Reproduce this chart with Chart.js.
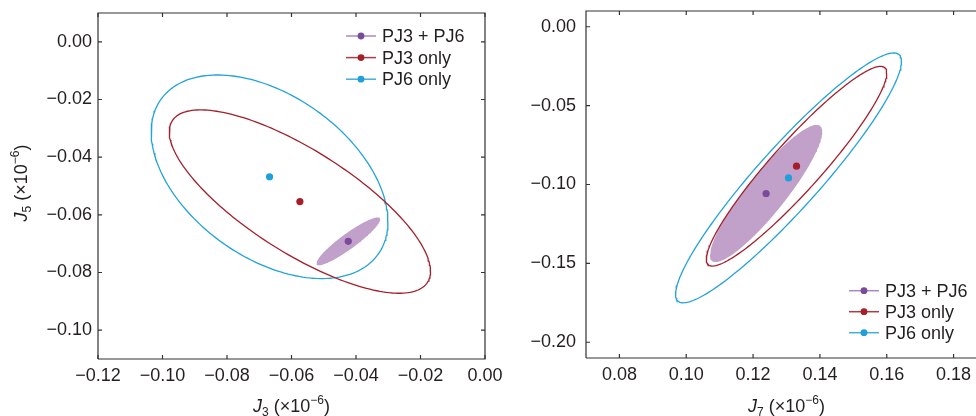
<!DOCTYPE html>
<html>
<head>
<meta charset="utf-8">
<script src="https://cdn.jsdelivr.net/npm/chart.js@4.4.1/dist/chart.umd.min.js"></script>
<style>
html, body { margin: 0; padding: 0; background: #fff; overflow: hidden; width: 976px; height: 416px; }
.panel { position: absolute; top: 0; height: 416px; }
#left_box { left: 0; width: 520px; }
#right_box { left: 500px; width: 500px; }
</style>
</head>
<body>
<div class="panel" id="left_box"><canvas id="leftChart"></canvas></div>
<div class="panel" id="right_box"><canvas id="rightChart"></canvas></div>
<script>
// series (same order in both panels)
const series_names = ['PJ3 + PJ6', 'PJ3 only', 'PJ6 only'];

// left panel: J3 vs J5 (x10^-6) - centre, half extents, correlation
const j3_centre = [-0.0424, -0.0574, -0.0668];
const j5_centre = [-0.0692, -0.0554, -0.0468];
const j3_halfwidth = [0.0099, 0.0405, 0.0367];
const j5_halfwidth = [0.0083, 0.0318, 0.0353];
const j3_j5_corr = [0.92, -0.76, -0.44];
const j3_ticks = [-0.12, -0.10, -0.08, -0.06, -0.04, -0.02, 0.00];
const j5_ticks = [0.00, -0.02, -0.04, -0.06, -0.08, -0.10];

// right panel: J7 vs J9 (x10^-6)
const j7_centre = [0.1239, 0.1330, 0.1306];
const j9_centre = [-0.1057, -0.0884, -0.0958];
const j7_halfwidth = [0.0168, 0.0270, 0.0338];
const j9_halfwidth = [0.0435, 0.0633, 0.0792];
const j7_j9_corr = [0.90, 0.932, 0.931];
const j7_ticks = [0.08, 0.10, 0.12, 0.14, 0.16, 0.18];
const j9_ticks = [0.00, -0.05, -0.10, -0.15, -0.20];

// colours
const line_colors = ['#a07cb8', '#a51f2a', '#23a2dc'];
const dot_colors = ['#7b4b9b', '#a51f2a', '#1f9fdb'];
const legend_line_colors = ['#a98ac0', '#b23a42', '#45acdf'];
const purple_fill = '#c1a0ca';
const text_color = '#231f20';
const frame_color = '#333333';
const font_family = '"Liberation Sans", Arial, Helvetica, sans-serif';

//橢圓外框 (中心, 半寬, 半高, 相關係數)
function ellipse_points(cx, cy, sx, sy, r) {
    let pts = [];
    let n = 200;
    for (let i = 0; i <= n; i++) {
        let t = i / n * 2 * Math.PI;
        pts.push({
            x: cx + sx * Math.cos(t),
            y: cy + sy * (r * Math.cos(t) + Math.sqrt(1 - r * r) * Math.sin(t))
        });
    }
    return pts;
}

function build_datasets(xc, yc, sx, sy, rho) {
    let ds = [];
    for (let i = 0; i < series_names.length; i++) {
        ds.push({
            label: series_names[i] + ' region',
            data: ellipse_points(xc[i], yc[i], sx[i], sy[i], rho[i]),
            showLine: true,
            pointRadius: 0,
            borderWidth: i == 0 ? 0 : 1.3,
            borderColor: i == 0 ? purple_fill : line_colors[i],
            backgroundColor: i == 0 ? purple_fill : 'rgba(0,0,0,0)',
            fill: i == 0 ? 'shape' : false,
            tension: 0,
            order: i == 0 ? 10 : 5
        });
    }
    for (let i = 0; i < series_names.length; i++) {
        ds.push({
            label: series_names[i],
            data: [{ x: xc[i], y: yc[i] }],
            pointRadius: 3.6,
            pointBorderWidth: 0,
            backgroundColor: dot_colors[i],
            borderColor: dot_colors[i],
            order: 0
        });
    }
    return ds;
}

function fmt_tick(v) {
    return (v < -1e-9 ? '\u2212' : '') + Math.abs(v).toFixed(2);
}

// J_n (×10^-6) 文字
function draw_math_label(ctx, sub, cx, cy, rot) {
    let parts = [
        { t: 'J', font: 'italic 18px ' + font_family, dy: 0 },
        { t: sub, font: '12px ' + font_family, dy: 4 },
        { t: ' (\u00d710', font: '18px ' + font_family, dy: 0 },
        { t: '\u22126', font: '12px ' + font_family, dy: -8 },
        { t: ')', font: '18px ' + font_family, dy: 0 }
    ];
    let w = 0;
    parts.forEach(p => { ctx.font = p.font; p.w = ctx.measureText(p.t).width; w += p.w; });
    ctx.save();
    ctx.translate(cx, cy);
    ctx.rotate(rot);
    ctx.fillStyle = text_color;
    ctx.textBaseline = 'alphabetic';
    ctx.textAlign = 'left';
    let x = -w / 2;
    parts.forEach(p => {
        ctx.font = p.font;
        ctx.fillText(p.t, x, p.dy);
        x += p.w;
    });
    ctx.restore();
}

// 外框, 內側刻度, 軸標題, 圖例
const panel_extras = {
    id: 'panel_extras',
    afterDraw(chart, args, opts) {
        const ctx = chart.ctx;
        const a = chart.chartArea;
        const xs = chart.scales.x, ys = chart.scales.y;
        ctx.save();
        ctx.strokeStyle = frame_color;
        ctx.lineWidth = 1.2;
        ctx.beginPath();
        ctx.moveTo(a.left, a.bottom);
        ctx.lineTo(a.left, a.top);
        ctx.lineTo(a.right, a.top);
        ctx.lineTo(a.right, a.bottom);
        ctx.lineTo(a.left, a.bottom);
        ctx.stroke();
        let tl = 4;
        ctx.beginPath();
        opts.xticks.forEach(v => {
            let px = xs.getPixelForValue(v);
            ctx.moveTo(px, a.bottom); ctx.lineTo(px, a.bottom - tl);
            ctx.moveTo(px, a.top); ctx.lineTo(px, a.top + tl);
        });
        opts.yticks.forEach(v => {
            let py = ys.getPixelForValue(v);
            ctx.moveTo(a.left, py); ctx.lineTo(a.left + tl, py);
            ctx.moveTo(a.right, py); ctx.lineTo(a.right - tl, py);
        });
        ctx.stroke();
        ctx.restore();

        draw_math_label(ctx, opts.xsub, (a.left + a.right) / 2, opts.xtitle_y, 0);
        draw_math_label(ctx, opts.ysub, opts.ytitle_x, opts.ytitle_y, -Math.PI / 2);

        // legend
        ctx.save();
        ctx.font = '18px ' + font_family;
        ctx.textBaseline = 'middle';
        ctx.textAlign = 'left';
        for (let i = 0; i < series_names.length; i++) {
            let y = opts.legend_y + i * opts.legend_step;
            ctx.strokeStyle = legend_line_colors[i];
            ctx.lineWidth = 1.5;
            ctx.beginPath();
            ctx.moveTo(opts.legend_x, y);
            ctx.lineTo(opts.legend_x + 30, y);
            ctx.stroke();
            ctx.fillStyle = dot_colors[i];
            ctx.beginPath();
            ctx.arc(opts.legend_x + 15, y, 3.4, 0, 2 * Math.PI);
            ctx.fill();
            ctx.fillStyle = text_color;
            ctx.fillText(series_names[i], opts.legend_x + 36, y + 1);
        }
        ctx.restore();
    }
};

function make_chart(canvas_id, datasets, xr, yr, xticks, yticks, box, extras) {
    const ctx = document.getElementById(canvas_id);
    return new Chart(ctx, {
        type: 'scatter',
        data: { datasets: datasets },
        plugins: [panel_extras],
        options: {
            responsive: true,
            maintainAspectRatio: false,
            animation: false,
            layout: { padding: { left: 0, top: box.top, right: box.right, bottom: 0 } },
            plugins: {
                legend: { display: false },
                tooltip: { enabled: false },
                panel_extras: Object.assign({ xticks: xticks, yticks: yticks }, extras)
            },
            scales: {
                x: {
                    type: 'linear',
                    min: xr[0],
                    max: xr[1],
                    afterBuildTicks: s => { s.ticks = xticks.map(v => ({ value: v })); },
                    afterFit: s => { s.height = box.xh; s.paddingLeft = 0; s.paddingRight = 0; },
                    grid: { display: false, drawTicks: false },
                    border: { display: false },
                    ticks: {
                        callback: fmt_tick,
                        autoSkip: false,
                        maxRotation: 0,
                        padding: box.xpad,
                        color: text_color,
                        font: { size: 18, family: font_family }
                    }
                },
                y: {
                    type: 'linear',
                    min: yr[0],
                    max: yr[1],
                    afterBuildTicks: s => { s.ticks = yticks.map(v => ({ value: v })); },
                    afterFit: s => { s.width = box.yw; s.paddingTop = 0; s.paddingBottom = 0; },
                    grid: { display: false, drawTicks: false },
                    border: { display: false },
                    ticks: {
                        callback: fmt_tick,
                        autoSkip: false,
                        padding: box.ypad,
                        color: text_color,
                        font: { size: 18, family: font_family }
                    }
                }
            }
        }
    });
}

make_chart('leftChart',
    build_datasets(j3_centre, j5_centre, j3_halfwidth, j5_halfwidth, j3_j5_corr),
    [-0.12, 0.00], [-0.11, 0.01], j3_ticks, j5_ticks,
    { top: 13, right: 35, xh: 57, yw: 98, xpad: 6, ypad: 6 },
    { xsub: '3', ysub: '5', xtitle_y: 412, ytitle_x: 27, ytitle_y: 183,
      legend_x: 346, legend_y: 36, legend_step: 21.6 });

make_chart('rightChart',
    build_datasets(j7_centre, j9_centre, j7_halfwidth, j9_halfwidth, j7_j9_corr),
    [0.07, 0.19], [-0.21, 0.01], j7_ticks, j9_ticks,
    { top: 11, right: 13, xh: 58, yw: 86, xpad: 6, ypad: 10 },
    { xsub: '7', ysub: '9', xtitle_y: 412, ytitle_x: 515, ytitle_y: 182,
      legend_x: 349, legend_y: 290.7, legend_step: 21 });
</script>
</body>
</html>
